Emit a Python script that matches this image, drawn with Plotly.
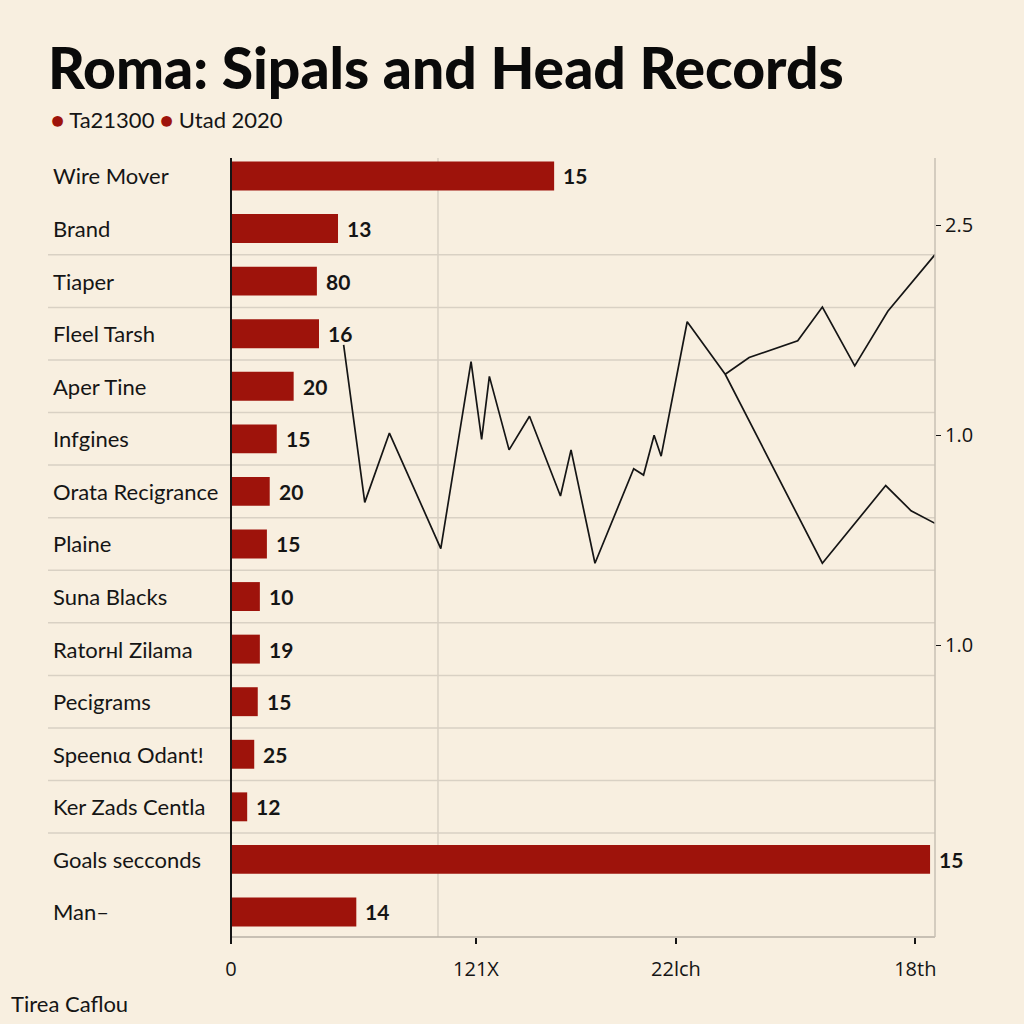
import plotly.graph_objects as go

# ---------------- data ----------------
categories = ["Wire Mover", "Brand", "Tiaper", "Fleel Tarsh", "Aper Tine", "Infgines",
              "Orata Recigrance", "Plaine", "Suna Blacks", "Ratorнl Zilama", "Pecigrams",
              "Speenια Odant!", "Ker Zads Centla", "Goals secconds", "Man–"]
bar_values = [45.9, 15.2, 12.2, 12.5, 8.9, 6.5, 5.5, 5.1, 4.1, 4.1, 3.8, 3.3, 2.3, 99.3, 17.8]
bar_labels = ["15", "13", "80", "16", "20", "15", "20", "15", "10", "19", "15", "25", "12", "15", "14"]

x_tick_vals = [0, 34.8, 63.2, 97.2]
x_tick_text = ["0", "121X", "22lch", "18th"]

y2_tick_vals = [3, 2, 1]
y2_tick_text = ["2.5", "1.0", "1.0"]

line_a_x = [16.0, 19.0, 22.5, 29.8, 34.1, 35.6, 36.7, 39.5, 42.4, 46.8, 48.3, 51.7,
            57.2, 58.6, 60.1, 61.1, 64.8, 70.2, 84.0, 93.0, 96.6, 100.0]
line_a_y = [2.43, 1.68, 2.01, 1.46, 2.35, 1.98, 2.28, 1.93, 2.09, 1.71, 1.93, 1.39,
            1.84, 1.81, 2.00, 1.90, 2.54, 2.29, 1.39, 1.76, 1.64, 1.58]
line_b_x = [70.2, 73.6, 80.5, 84.0, 88.6, 93.3, 100.0]
line_b_y = [2.29, 2.37, 2.45, 2.61, 2.33, 2.59, 2.86]

title_text = "Roma: Sipals and Head Records"
legend_names = ["Ta21300", "Utad 2020"]
footer_text = "Tirea Caflou"

# ---------------- style ----------------
BG = "#f8efe0"
RED = "#9e130b"
INK = "#151515"
GRID = "#d9d1c4"
FONT = "Lato"

W, H = 1024, 1024
L, R, T, B = 231, 89, 158, 87
pw, ph = W - L - R, H - T - B


def px_x(px):
    return (px - L) / pw


def px_y(py):
    return (H - B - py) / ph


fig = go.Figure()
fig.add_trace(go.Bar(
    y=categories, x=bar_values, orientation="h",
    marker=dict(color=RED, line=dict(width=0)), width=0.55,
    hoverinfo="skip", showlegend=False,
))
fig.add_trace(go.Scatter(
    x=line_a_x, y=line_a_y, yaxis="y2", mode="lines",
    line=dict(color=INK, width=1.7), showlegend=False, hoverinfo="skip",
))
fig.add_trace(go.Scatter(
    x=line_b_x, y=line_b_y, yaxis="y2", mode="lines",
    line=dict(color=INK, width=1.7), showlegend=False, hoverinfo="skip",
))

n = len(categories)
annotations = []
for c in categories:
    annotations.append(dict(x=px_x(51), xref="paper", y=c, yref="y", text=c,
                            showarrow=False, xanchor="left", yanchor="middle",
                            font=dict(family=FONT, size=22, color=INK)))
for c, v, t in zip(categories, bar_values, bar_labels):
    annotations.append(dict(x=v, xref="x", y=c, yref="y", text="<b>" + t + "</b>",
                            showarrow=False, xanchor="left", yanchor="middle", xshift=7,
                            font=dict(family=FONT, size=21, color=INK)))
annotations.append(dict(x=px_x(46), xref="paper", y=px_y(67), yref="paper",
                        text=title_text, showarrow=False,
                        xanchor="left", yanchor="middle",
                        font=dict(family=FONT, size=57, color="#0a0a0a", weight=900)))
leg = (f'<span style="color:{RED}">●</span> {legend_names[0]} '
       f'<span style="color:{RED}">●</span> {legend_names[1]}')
annotations.append(dict(x=px_x(49), xref="paper", y=px_y(120), yref="paper",
                        text=leg, showarrow=False, xanchor="left", yanchor="middle",
                        font=dict(family=FONT, size=22, color=INK)))
annotations.append(dict(x=px_x(9), xref="paper", y=px_y(1003), yref="paper",
                        text=footer_text, showarrow=False, xanchor="left", yanchor="middle",
                        font=dict(family=FONT, size=22, color=INK)))

shapes = []
for i in range(1, n - 2):
    shapes.append(dict(type="line", xref="paper", yref="y", x0=px_x(48), x1=1,
                       y0=i + 0.5, y1=i + 0.5, line=dict(color=GRID, width=1.5), layer="below"))
shapes.append(dict(type="line", xref="x", yref="paper", x0=29.4, x1=29.4, y0=0, y1=1,
                   line=dict(color=GRID, width=1.5), layer="below"))
shapes.append(dict(type="line", xref="paper", yref="paper", x0=0, x1=1, y0=0, y1=0,
                   line=dict(color="#b9b1a6", width=1.5)))
shapes.append(dict(type="line", xref="paper", yref="paper", x0=1, x1=1, y0=0, y1=1,
                   line=dict(color="#c9c1b5", width=1.5)))
shapes.append(dict(type="line", xref="paper", yref="paper", x0=0, x1=0, y0=px_y(944), y1=1,
                   line=dict(color=INK, width=2)))

fig.update_layout(
    width=W, height=H, autosize=False,
    margin=dict(l=L, r=R, t=T, b=B),
    paper_bgcolor=BG, plot_bgcolor=BG,
    bargap=0.45,
    xaxis=dict(range=[0, 100], tickvals=x_tick_vals, ticktext=x_tick_text,
               showgrid=False, zeroline=False, showline=False,
               ticks="outside", ticklen=6, tickcolor=INK, tickwidth=1.5,
               ticklabelstandoff=8,
               tickfont=dict(family="Open Sans", size=20, color=INK)),
    yaxis=dict(categoryorder="array", categoryarray=categories,
               range=[n - 1 + 0.476, -0.342], showticklabels=False,
               showgrid=False, zeroline=False, showline=False, ticks=""),
    yaxis2=dict(overlaying="y", side="right", range=[-0.39, 3.32],
                tickvals=y2_tick_vals, ticktext=y2_tick_text,
                showgrid=False, zeroline=False, showline=False,
                ticks="outside", ticklen=5, tickcolor=INK,
                tickfont=dict(family="Open Sans", size=20, color=INK)),
    annotations=annotations, shapes=shapes,
)

fig.write_html(
    "out.html",
    config={"displayModeBar": False},
    post_script="document.body.style.margin='0';document.body.style.background='%s';" % BG,
)
